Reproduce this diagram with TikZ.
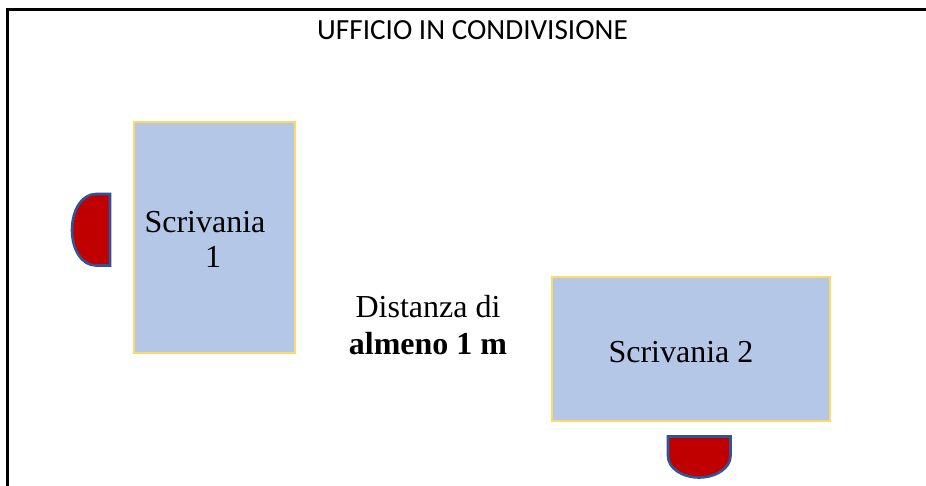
\documentclass[tikz,border=0pt]{standalone}
\usepackage{fontspec}
\setmainfont{Liberation Serif}
\newfontfamily\titlefont{Carlito}
\definecolor{deskfill}{HTML}{B4C7E7}
\definecolor{deskline}{HTML}{FFD966}
\definecolor{chairfill}{HTML}{C00000}
\definecolor{chairline}{HTML}{2F5597}
\tikzset{
  desk/.style={draw=deskline,fill=deskfill,line width=2.7pt},
  chair/.style={draw=chairline,fill=chairfill,line width=2.6pt,line join=miter},
  lbl/.style={inner sep=0pt,font=\fontsize{32}{38}\selectfont,align=center},
  frameline/.style={draw=black,line width=2.6pt}
}
\begin{document}
\begin{tikzpicture}[x=1pt,y=-1pt]
\useasboundingbox (0,0) rectangle (926,486);
\fill[white] (0,0) rectangle (926,486);
\coordinate (fa) at (7.5,486);
\coordinate (fb) at (7.5,9.5);
\coordinate (fc) at (926,9.5);
\draw[frameline] (fa) -- (fb) -- (fc);
\node[inner sep=0pt,anchor=base,font=\titlefont\fontsize{29.2}{34}\selectfont] (title) at (472.5,39.7) {UFFICIO IN CONDIVISIONE};
\path[desk] (134,122) rectangle (295,353);
\path[desk] (552,277) rectangle (830,421);
\path[chair] (110,194) -- (110,265.5) -- (96,265.5)
  .. controls (82,265.5) and (72,250) .. (72,230)
  .. controls (72,210) and (82,194) .. (96,194) -- cycle;
\path[chair] (668,436.5) -- (730.5,436.5) -- (730.5,456)
  .. controls (730.5,468) and (716,477.5) .. (699,477.5)
  .. controls (682,477.5) and (668,468) .. (668,456) -- cycle;
\node[lbl,anchor=base] (d1a) at (205,232.5) {Scrivania};
\node[lbl,anchor=base] (d1b) at (213,268) {1};
\node[lbl,anchor=base] (d2) at (681,362.5) {Scrivania 2};
\node[lbl,anchor=base] (dist1) at (428,317.5) {Distanza di};
\node[lbl,anchor=base] (dist2) at (428,354) {\bfseries almeno 1 m};
\end{tikzpicture}
\end{document}
